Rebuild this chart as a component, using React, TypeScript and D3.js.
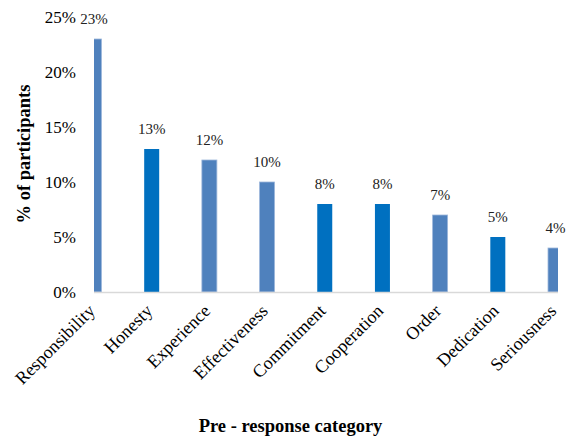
import React from "react";
import * as d3 from "d3";

const categories = ["Responsibility", "Honesty", "Experience", "Effectiveness", "Commitment", "Cooperation", "Order", "Dedication", "Seriousness"];
const values = [23, 13, 12, 10, 8, 8, 7, 5, 4];
const shade = ["light", "dark", "light", "light", "dark", "dark", "light", "dark", "light"];
const yTicks = [0, 5, 10, 15, 20, 25];

const W = 569, H = 438;
const plotLeft = 94, plotRight = 558, baseY = 292, topY = 17;
const colors: Record<string, string> = { light: "#4F81BD", dark: "#0070C0" };
const font = "'Liberation Serif', 'Times New Roman', serif";

export default function App() {
  const x = d3.scalePoint<string>().domain(categories).range([94, 555.5]);
  const y = d3.scaleLinear().domain([0, 25]).range([baseY, topY]);
  const bw = 15;
  return (
    <svg width={W} height={H} style={{ position: "absolute", left: 0, top: 0, background: "#fff" }} fontFamily={font}>
      <defs>
        <clipPath id="plotclip">
          <rect x={plotLeft} y={0} width={plotRight - plotLeft} height={baseY} />
        </clipPath>
      </defs>
      {yTicks.map((t) => (
        <text key={t} x={76} y={y(t)} dy="0.35em" textAnchor="end" fontSize={17} fill="#000">
          {t}%
        </text>
      ))}
      <g clipPath="url(#plotclip)">
        {categories.map((c, i) => (
          <rect
            key={c}
            x={(x(c) as number) - bw / 2}
            y={y(values[i])}
            width={bw}
            height={baseY - y(values[i])}
            fill={colors[shade[i]]}
            stroke={shade[i] === "light" ? "#9DB7DB" : "none"}
            strokeWidth={0.8}
          />
        ))}
      </g>
      <line x1={plotLeft} x2={plotRight} y1={baseY + 0.5} y2={baseY + 0.5} stroke="#D9D9D9" strokeWidth={1.5} />
      {categories.map((c, i) => (
        <text key={c} x={x(c) as number} y={y(values[i]) - 15} textAnchor="middle" fontSize={15} fill="#222">
          {values[i]}%
        </text>
      ))}
      {categories.map((c) => (
        <text
          key={c}
          transform={`translate(${(x(c) as number) + 2},${312}) rotate(-45)`}
          textAnchor="end"
          fontSize={18}
          fill="#000"
        >
          {c}
        </text>
      ))}
      <text transform={`translate(30,154) rotate(-90)`} textAnchor="middle" fontSize={18.5} fontWeight="bold" fill="#000">
        % of participants
      </text>
      <text x={290.5} y={432} textAnchor="middle" fontSize={18.5} fontWeight="bold" fill="#000">
        Pre - response category
      </text>
    </svg>
  );
}
